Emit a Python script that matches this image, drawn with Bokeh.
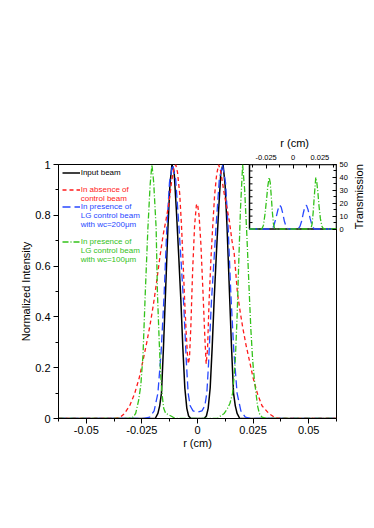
from math import pi
from bokeh.plotting import figure
from bokeh.models import Range1d, LinearAxis, FixedTicker, Legend, LegendItem, Label, Title
from bokeh.embed import file_html
from bokeh.resources import INLINE

# ---------------- data ----------------
black_x = [-0.0625, -0.022, -0.019, -0.0178, -0.017, -0.0162, -0.0153, -0.0144, -0.0133, -0.0124, -0.0115,
           -0.0105, -0.0095, -0.0085, -0.0075, -0.0066, -0.0057, -0.0048, -0.004, -0.003, 0.0,
           0.003, 0.004, 0.0048, 0.0057, 0.0066, 0.0075, 0.0085, 0.0095, 0.0105, 0.0115,
           0.0124, 0.0133, 0.0144, 0.0153, 0.0162, 0.017, 0.0178, 0.019, 0.022, 0.0625]
black_y = [0, 0, 0, 0.02, 0.05, 0.1, 0.28, 0.49, 0.75, 0.92, 1.0,
           0.97, 0.82, 0.65, 0.47, 0.28, 0.12, 0.04, 0.01, 0, 0,
           0, 0.01, 0.04, 0.12, 0.28, 0.47, 0.65, 0.82, 0.97, 1.0,
           0.92, 0.75, 0.49, 0.28, 0.1, 0.05, 0.02, 0, 0, 0]

red_x = [-0.0625, -0.037, -0.035, -0.033, -0.0305, -0.0283, -0.0262, -0.0245, -0.0228, -0.0213, -0.0198,
         -0.0185, -0.017, -0.0155, -0.014, -0.0128, -0.0117, -0.0105, -0.0098, -0.009, -0.008, -0.0072,
         -0.0065, -0.0058, -0.0051, -0.0045, -0.0041, -0.0036, -0.003, -0.0022, -0.0013, -0.0005, 0.0,
         0.0007, 0.0015, 0.0025, 0.0033, 0.0039, 0.0045, 0.0052, 0.006, 0.0068, 0.0077, 0.0086, 0.0095,
         0.0105, 0.012, 0.0132, 0.0143, 0.0155, 0.0165, 0.018, 0.0192, 0.0203, 0.0218, 0.0233, 0.025,
         0.027, 0.029, 0.0323, 0.035, 0.037, 0.0625]
red_y = [0, 0, 0.003, 0.018, 0.05, 0.097, 0.16, 0.228, 0.3, 0.37, 0.45,
         0.53, 0.63, 0.72, 0.79, 0.85, 0.93, 0.99, 1.0, 0.97, 0.885, 0.76,
         0.62, 0.47, 0.34, 0.25, 0.215, 0.24, 0.36, 0.58, 0.76, 0.84, 0.845,
         0.8, 0.69, 0.49, 0.32, 0.215, 0.27, 0.46, 0.62, 0.75, 0.88, 0.96, 1.0,
         0.97, 0.885, 0.83, 0.78, 0.7, 0.65, 0.49, 0.42, 0.36, 0.29, 0.23, 0.16,
         0.097, 0.05, 0.018, 0.003, 0, 0]

blue_x = [-0.0625, -0.024, -0.0215, -0.0195, -0.0178, -0.0163, -0.015, -0.0138, -0.0126, -0.0112,
          -0.0098, -0.0083, -0.0062, -0.005, -0.0042, -0.0033, -0.002, 0.0,
          0.002, 0.0033, 0.0042, 0.005, 0.0062, 0.0083, 0.0098,
          0.0112, 0.0126, 0.0138, 0.015, 0.0163, 0.0178, 0.0195, 0.0215, 0.024, 0.0625]
blue_y = [0, 0, 0.005, 0.03, 0.1, 0.27, 0.49, 0.75, 0.93, 1.0,
          0.94, 0.75, 0.45, 0.22, 0.1, 0.05, 0.03, 0.025,
          0.03, 0.05, 0.1, 0.22, 0.45, 0.75, 0.94,
          1.0, 0.93, 0.75, 0.49, 0.27, 0.1, 0.03, 0.005, 0, 0]

green_x = [-0.0625, -0.031, -0.029, -0.0278, -0.0265, -0.0255, -0.0245, -0.0235, -0.0223, -0.0213, -0.0205,
           -0.0197, -0.0186, -0.018, -0.0172, -0.0166, -0.016, -0.0152, -0.0143, -0.013, -0.0115, -0.01,
           0.009, 0.01, 0.012, 0.0135, 0.0146, 0.0158, 0.0165, 0.017, 0.0178, 0.0185, 0.0193, 0.0203,
           0.0212, 0.0222, 0.0233, 0.024, 0.0248, 0.0256, 0.0263, 0.027, 0.0278, 0.029, 0.031, 0.0625]
green_y = [0, 0, 0.005, 0.02, 0.07, 0.13, 0.25, 0.49, 0.75, 0.92, 1.0,
           0.93, 0.75, 0.49, 0.3, 0.18, 0.1, 0.04, 0.02, 0.015, 0.008, 0.0,
           0.0, 0.008, 0.02, 0.04, 0.06, 0.1, 0.17, 0.23, 0.4, 0.6, 0.82, 1.0,
           0.9, 0.72, 0.49, 0.35, 0.23, 0.15, 0.1, 0.05, 0.02, 0.005, 0, 0]

# inset: transmission
inset_green_x = [-0.0405, -0.029, -0.0275, -0.026, -0.0245, -0.0235, -0.0222, -0.0212, -0.0202, -0.0192,
                 -0.0182, -0.0172, -0.016, 0.016, 0.0168, 0.0178, 0.0188, 0.0198, 0.0212, 0.0222,
                 0.0232, 0.0242, 0.0255, 0.027, 0.0285, 0.0405]
inset_green_y = [0, 0, 3, 12, 24, 33, 40, 36, 25, 13, 4, 0.5, 0, 0, 0.5, 4, 13, 25, 40, 36, 28, 18, 8, 2, 0, 0]
inset_blue_x = [-0.0405, -0.02, -0.018, -0.016, -0.014, -0.0125, -0.011, -0.0095, -0.008, -0.0065, -0.005, -0.004,
                0.004, 0.005, 0.0065, 0.008, 0.0095, 0.011, 0.0125, 0.014, 0.016, 0.018, 0.02, 0.0405]
inset_blue_y = [0, 0, 2, 8, 15, 18.5, 17, 12, 6, 2, 0.3, 0,
                0, 0.3, 2, 6, 12, 17, 18.5, 15, 8, 2, 0, 0]

x_ticks = [-0.05, -0.025, 0, 0.025, 0.05]
x_tick_labels = ["-0.05", "-0.025", "0", "0.025", "0.05"]
x_minor = [-0.0625, -0.0375, -0.0125, 0.0125, 0.0375, 0.0625]
y_ticks = [0, 0.2, 0.4, 0.6, 0.8, 1.0]
y_tick_labels = ["0", "0.2", "0.4", "0.6", "0.8", "1"]
y_minor = [0.1, 0.3, 0.5, 0.7, 0.9]

inset_x_ticks = [-0.025, 0, 0.025]
inset_x_tick_labels = ["-0.025", "0", "0.025"]
inset_x_minor = [-0.0375, -0.0125, 0.0125, 0.0375]
inset_y_ticks = [0, 10, 20, 30, 40, 50]
inset_y_minor = [5, 15, 25, 35, 45]

legend_texts = {
    "black": ["Input beam"],
    "red": ["In absence of", "control beam"],
    "blue": ["In presence of", "LG control beam", "with wc=200\u03bcm"],
    "green": ["In presence of", "LG control beam", "with wc=100\u03bcm"],
}

# ---------------- layout ----------------
FONT = "Liberation Sans"
W, H = 366, 508
BL, BR, BT, BB = 58, 30, 164, 90
FW, FH = W - BL - BR, H - BT - BB
XI = (-0.0405, 0.0405)
YI = (0, 50)
INSET_W, INSET_H = 87.0, 64.5

C_BLACK, C_RED, C_BLUE, C_GREEN = "black", "#ff1a1a", "#2848ff", "#33c21a"

p = figure(width=W, height=H, output_backend="svg", toolbar_location=None,
           x_range=Range1d(-0.0625, 0.0625), y_range=Range1d(0, 1),
           min_border_left=BL, min_border_right=BR, min_border_top=BT, min_border_bottom=BB,
           x_axis_label="r (cm)", y_axis_label="Normalized Intensity")
p.xgrid.visible = False
p.ygrid.visible = False
p.outline_line_color = "black"
p.outline_line_alpha = 1
p.outline_line_width = 1

xi_start = XI[1] - (XI[1] - XI[0]) * FW / INSET_W
yi_start = YI[1] - (YI[1] - YI[0]) * FH / INSET_H
p.extra_x_ranges = {"xi": Range1d(xi_start, XI[1])}
p.extra_y_ranges = {"yi": Range1d(yi_start, YI[1])}

for ax in (p.xaxis[0], p.yaxis[0]):
    ax.axis_line_color = "black"
    ax.major_tick_line_color = "black"
    ax.minor_tick_line_color = "black"
    ax.major_tick_in = 0
    ax.major_tick_out = 5
    ax.minor_tick_in = 0
    ax.minor_tick_out = 3
    ax.major_label_text_font = FONT
    ax.major_label_text_font_size = "11px"
    ax.major_label_text_color = "black"
    ax.axis_label_text_font = FONT
    ax.axis_label_text_font_size = "11px"
    ax.axis_label_text_font_style = "normal"
    ax.axis_label_text_color = "black"
    ax.axis_label_standoff = 3
    ax.major_label_standoff = 3

p.xaxis[0].ticker = FixedTicker(ticks=x_ticks, minor_ticks=x_minor)
p.xaxis[0].major_label_overrides = {v: s for v, s in zip(x_ticks, x_tick_labels)}
p.xaxis[0].major_label_standoff = 2
p.xaxis[0].axis_label_standoff = 0
p.yaxis[0].ticker = FixedTicker(ticks=y_ticks, minor_ticks=y_minor)
p.yaxis[0].major_label_overrides = {v: s for v, s in zip(y_ticks, y_tick_labels)}
p.yaxis[0].axis_label_standoff = 0

r_black = p.line(black_x, black_y, line_color=C_BLACK, line_width=1.5)
r_blue = p.line(blue_x, blue_y, line_color=C_BLUE, line_width=1.3, line_dash="8 4")
r_red = p.line(red_x, red_y, line_color=C_RED, line_width=1.3, line_dash="4 3")
r_green = p.line(green_x, green_y, line_color=C_GREEN, line_width=1.3, line_dash="6 2 1 2")

# ---------------- inset ----------------
p.quad(left=[XI[0]], right=[XI[1]], bottom=[YI[0]], top=[YI[1]],
       x_range_name="xi", y_range_name="yi",
       fill_color="white", line_color="black", line_width=1.5)
p.line(inset_blue_x, inset_blue_y, x_range_name="xi", y_range_name="yi",
       line_color=C_BLUE, line_width=1.3, line_dash="8 4")
p.line(inset_green_x, inset_green_y, x_range_name="xi", y_range_name="yi",
       line_color=C_GREEN, line_width=1.3, line_dash="6 2 1 2")
tick_len = 3.0 * (XI[1] - XI[0]) / INSET_W
left_ticks = inset_y_ticks[1:-1] + inset_y_minor
p.segment(x0=[XI[0]] * len(left_ticks), y0=left_ticks,
          x1=[XI[0] + tick_len] * len(left_ticks), y1=left_ticks,
          x_range_name="xi", y_range_name="yi", line_color="black", line_width=1)

top_ax = LinearAxis(x_range_name="xi", bounds=XI,
                    ticker=FixedTicker(ticks=inset_x_ticks, minor_ticks=inset_x_minor),
                    major_label_overrides={v: s for v, s in zip(inset_x_ticks, inset_x_tick_labels)},
                    axis_line_color=None, major_tick_in=4, major_tick_out=0,
                    minor_tick_in=3, minor_tick_out=0,
                    major_tick_line_color="black", minor_tick_line_color="black",
                    major_label_text_font=FONT, major_label_text_font_size="7.5px",
                    major_label_text_color="black", major_label_standoff=5)
p.add_layout(top_ax, "above")
right_ax = LinearAxis(y_range_name="yi", bounds=YI,
                      ticker=FixedTicker(ticks=inset_y_ticks, minor_ticks=inset_y_minor),
                      axis_line_color=None, major_tick_in=4, major_tick_out=0,
                      minor_tick_in=3, minor_tick_out=0,
                      major_tick_line_color="black", minor_tick_line_color="black",
                      major_label_text_font=FONT, major_label_text_font_size="7.5px",
                      major_label_text_color="black", major_label_standoff=3)
p.add_layout(right_ax, "right")

# inset axis titles (placed in the side panels so they are not clipped)
p.add_layout(Title(text="r (cm)", align="right", offset=27.5, standoff=5,
                   text_font=FONT, text_font_size="11px", text_font_style="normal",
                   text_color="black"), "above")
p.add_layout(Label(x=8, y=FH - INSET_H / 2, x_units="screen", y_units="screen",
                   angle=pi / 2, text="Transmission", text_align="center", text_baseline="middle",
                   text_font=FONT, text_font_size="11px", text_color="black"), "right")

# ---------------- legends ----------------
LEG_X = 3.7
LINE_H = 9
entries = [
    (r_black, C_BLACK, legend_texts["black"], 172.3),
    (r_red, C_RED, legend_texts["red"], 189.5),
    (r_blue, C_BLUE, legend_texts["blue"], 206.0),
    (r_green, C_GREEN, legend_texts["green"], 241.7),
]
for rend, col, lines, first_center in entries:
    items = [LegendItem(label=lines[0], renderers=[rend])] + \
            [LegendItem(label=t, renderers=[]) for t in lines[1:]]
    top_in_frame = first_center - LINE_H / 2 - BT
    vy = FH - (top_in_frame + LINE_H * len(lines))
    lg = Legend(items=items, location=(LEG_X, vy), orientation="vertical",
                label_text_font=FONT, label_text_font_size="8px", label_text_color=col,
                glyph_width=18, glyph_height=LINE_H, label_height=LINE_H,
                label_standoff=1, spacing=0, padding=0, margin=0,
                border_line_color=None, background_fill_alpha=0)
    p.add_layout(lg)

open("out.html", "w").write(file_html(p, INLINE))
